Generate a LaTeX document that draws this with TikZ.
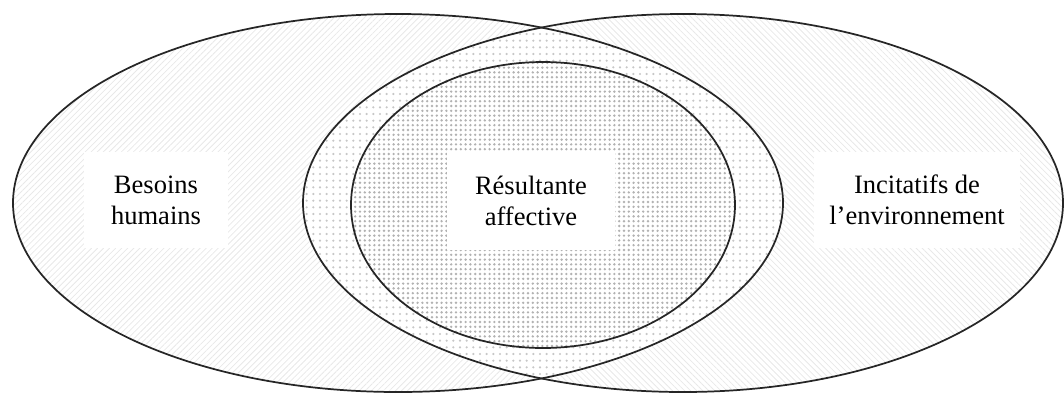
\documentclass[tikz,border=0pt]{standalone}
\usepackage{fontspec}
\setmainfont{Liberation Serif}
\usetikzlibrary{patterns.meta}
\begin{document}
\begin{tikzpicture}[x=0.75pt,y=-0.75pt,
  outline/.style={draw=black!85,line width=1.3pt},
  lbl/.style={fill=white,align=center,inner sep=0pt,font=\fontsize{19.9}{23.4}\selectfont},
  hatchL/.style={pattern={Lines[angle=45,distance=3.2pt,line width=0.6pt]},pattern color=black!9},
  hatchR/.style={pattern={Lines[angle=-45,distance=3.2pt,line width=0.6pt]},pattern color=black!9},
  lensfill/.style={pattern={Dots[distance=5pt,radius=0.9pt]},pattern color=black!22},
  innerfill/.style={pattern={Dots[distance=3.6pt,radius=1pt]},pattern color=black!30}]
\useasboundingbox (0,0) rectangle (1064,394);
% fills
\fill[hatchL] (398,203) ellipse [x radius=288.75pt,y radius=141.75pt];
\fill[hatchR] (683,203) ellipse [x radius=285pt,y radius=141.75pt];
\begin{scope}
  \clip (398,203) ellipse [x radius=288.75pt,y radius=141.75pt];
  \fill[white] (683,203) ellipse [x radius=285pt,y radius=141.75pt];
  \fill[lensfill] (683,203) ellipse [x radius=285pt,y radius=141.75pt];
\end{scope}
\fill[white] (543,205) ellipse [x radius=144pt,y radius=107.25pt];
\fill[innerfill] (543,205) ellipse [x radius=144pt,y radius=107.25pt];
% outlines
\draw[outline] (398,203) ellipse [x radius=288.75pt,y radius=141.75pt];
\draw[outline] (683,203) ellipse [x radius=285pt,y radius=141.75pt];
\draw[outline] (543,205) ellipse [x radius=144pt,y radius=107.25pt];
% labels
\node[lbl,minimum width=108pt,minimum height=72pt] (besoins) at (156,200) {Besoins\\humains};
\node[lbl,minimum width=126pt,minimum height=73pt] (resultante) at (531,201) {Résultante\\affective};
\node[lbl,minimum width=155pt,minimum height=72pt] (incitatifs) at (917,200) {Incitatifs de\\l’environnement};
\end{tikzpicture}
\end{document}
